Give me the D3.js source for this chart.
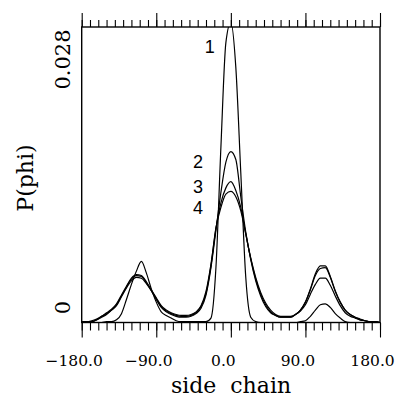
<!DOCTYPE html>
<html>
<head>
<meta charset="utf-8">
<script src="https://cdn.jsdelivr.net/npm/d3@7"></script>
<style>
  body { margin: 0; background: #fff; }
  svg { display: block; }
</style>
</head>
<body>
<div id="chart"></div>
<script>
// Side chain angle grid (degrees)
const angles = [-180, -174, -168, -162, -156, -150, -144, -138, -132, -126, -120, -114, -108, -102, -96, -90,
  -84, -78, -72, -66, -60, -54, -48, -42, -36, -30, -24, -18, -12, -6, 0, 6, 12, 18, 24, 30, 36, 42, 48,
  54, 60, 66, 72, 78, 84, 90, 96, 102, 108, 114, 120, 126, 132, 138, 144, 150, 156, 162, 168, 174, 180];

// P(phi) for each run
const curve1 = [0, 0, 0, 0, 0, 0.0001, 0.0001, 0.0003, 0.0010, 0.0026, 0.0043, 0.0058, 0.0069, 0.0056, 0.0038, 0.0023,
  0.0012, 0.0008, 0.0005, 0.0002, 0.0001, 0.0001, 0.0001, 0.0001, 0.0001, 0.0001, 0.0005, 0.0062, 0.0198, 0.0316, 0.0339,
  0.0288, 0.0169, 0.0051, 0.0006, 0.0001, 0, 0, 0, 0, 0, 0, 0, 0, 0.0001, 0.0002, 0.0007, 0.0014, 0.0020, 0.0021,
  0.0017, 0.0010, 0.0005, 0.0001, 0, 0, 0, 0, 0, 0, 0];
const curve2 = [0, 0.0001, 0.0001, 0.0003, 0.0007, 0.0010, 0.0014, 0.0019, 0.0029, 0.0039, 0.0047, 0.0051, 0.0050, 0.0044, 0.0036, 0.0026,
  0.0017, 0.0012, 0.0009, 0.0007, 0.0006, 0.0006, 0.0007, 0.0010, 0.0016, 0.0031, 0.0062, 0.0104, 0.0147, 0.0181, 0.0193,
  0.0184, 0.0142, 0.0102, 0.0071, 0.0047, 0.0030, 0.0018, 0.0011, 0.0008, 0.0006, 0.0006, 0.0006, 0.0009, 0.0013, 0.0020,
  0.0032, 0.0043, 0.0050, 0.0050, 0.0042, 0.0030, 0.0019, 0.0011, 0.0007, 0.0005, 0.0003, 0.0002, 0.0001, 0.0001, 0];
const curve3 = [0, 0.0001, 0.0001, 0.0003, 0.0006, 0.0009, 0.0014, 0.0020, 0.0030, 0.0040, 0.0049, 0.0053, 0.0052, 0.0045, 0.0036, 0.0027,
  0.0018, 0.0013, 0.0010, 0.0008, 0.0007, 0.0007, 0.0008, 0.0011, 0.0018, 0.0033, 0.0064, 0.0106, 0.0135, 0.0152, 0.0159,
  0.0149, 0.0130, 0.0100, 0.0072, 0.0049, 0.0032, 0.0020, 0.0012, 0.0008, 0.0006, 0.0006, 0.0006, 0.0009, 0.0014, 0.0023,
  0.0038, 0.0055, 0.0064, 0.0064, 0.0052, 0.0036, 0.0023, 0.0014, 0.0009, 0.0006, 0.0003, 0.0002, 0.0001, 0.0001, 0];
const curve4 = [0.0001, 0.0001, 0.0002, 0.0004, 0.0007, 0.0011, 0.0015, 0.0021, 0.0031, 0.0041, 0.0050, 0.0054, 0.0053, 0.0046, 0.0037, 0.0028,
  0.0019, 0.0014, 0.0011, 0.0009, 0.0008, 0.0008, 0.0009, 0.0012, 0.0019, 0.0035, 0.0066, 0.0107, 0.0130, 0.0145, 0.0148,
  0.0142, 0.0126, 0.0100, 0.0073, 0.0051, 0.0034, 0.0022, 0.0014, 0.0009, 0.0007, 0.0007, 0.0007, 0.0009, 0.0014, 0.0023,
  0.0037, 0.0053, 0.0061, 0.0062, 0.0051, 0.0035, 0.0023, 0.0014, 0.0009, 0.0006, 0.0004, 0.0002, 0.0001, 0.0001, 0];

const seriesNames = ['1', '2', '3', '4'];
const xMajorTicks = [-180, -90, 0, 90, 180];
const xTickLabels = ['\u2212180.0', '\u221290.0', '0.0', '90.0', '180.0'];
const yTicks = [0, 0.028];
const yTickLabels = ['0', '0.028'];

// Layout
const W = 398, H = 397;
const plot = { left: 81.7, right: 380, top: 27, bottom: 322.5 };

const svg = d3.select('#chart').append('svg')
  .attr('width', W)
  .attr('height', H);

const x = d3.scaleLinear().domain([-180, 180]).range([plot.left, plot.right]);
const y = d3.scaleLinear().domain([0, 0.028]).range([plot.bottom, plot.bottom - 248]);

svg.append('clipPath').attr('id', 'plot-clip')
  .append('rect')
  .attr('x', plot.left).attr('y', plot.top)
  .attr('width', plot.right - plot.left).attr('height', plot.bottom - plot.top);

// Curves
const line = d3.line()
  .x((d, i) => x(angles[i]))
  .y(d => y(d))
  .curve(d3.curveMonotoneX);

const curves = [curve1, curve2, curve3, curve4];
svg.append('g')
  .attr('clip-path', 'url(#plot-clip)')
  .selectAll('path')
  .data(curves)
  .join('path')
  .attr('d', line)
  .attr('fill', 'none')
  .attr('stroke', '#000')
  .attr('stroke-width', 1.2)
  .attr('stroke-linejoin', 'round');

// Frame
svg.append('rect')
  .attr('x', plot.left).attr('y', plot.top)
  .attr('width', plot.right - plot.left).attr('height', plot.bottom - plot.top)
  .attr('fill', 'none')
  .attr('stroke', '#000')
  .attr('stroke-width', 1.4);

// Ticks on top and bottom
const minorTicks = d3.range(-180, 181, 10);

function tickAxis(axis, ty) {
  const g = svg.append('g').attr('transform', `translate(0,${ty})`).call(axis);
  g.select('.domain').remove();
  g.selectAll('line').attr('stroke', '#000').attr('stroke-width', 1.1);
  return g;
}

tickAxis(d3.axisTop(x).tickValues(minorTicks).tickSize(7).tickFormat(''), plot.top);
tickAxis(d3.axisTop(x).tickValues(xMajorTicks).tickSize(14).tickFormat(''), plot.top);
tickAxis(d3.axisBottom(x).tickValues(minorTicks).tickSize(8).tickFormat(''), plot.bottom);

const bottomMajor = tickAxis(
  d3.axisBottom(x).tickValues(xMajorTicks).tickSize(15).tickFormat((d, i) => xTickLabels[i]),
  plot.bottom);
bottomMajor.selectAll('text')
  .attr('y', 43)
  .attr('dy', 0)
  .attr('dx', -8)
  .attr('fill', '#000')
  .style('font-family', '"DejaVu Serif", serif')
  .style('font-size', '15.5px');

// Y tick labels (rotated, no tick marks)
svg.append('g')
  .selectAll('text')
  .data(yTicks)
  .join('text')
  .attr('transform', d => `translate(70,${y(d) - 15}) rotate(-90)`)
  .attr('text-anchor', 'middle')
  .style('font-family', '"DejaVu Serif", serif')
  .style('font-size', '21px')
  .text((d, i) => yTickLabels[i]);

// Axis titles
svg.append('text')
  .attr('x', 231)
  .attr('y', 393)
  .attr('text-anchor', 'middle')
  .style('font-family', '"DejaVu Serif", serif')
  .style('font-size', '22px')
  .style('word-spacing', '7px')
  .text('side chain');

svg.append('text')
  .attr('transform', 'translate(33,178) rotate(-90)')
  .attr('text-anchor', 'middle')
  .style('font-family', '"DejaVu Serif", serif')
  .style('font-size', '22px')
  .text('P(phi)');

// Curve numbers
const labelPos = [
  { a: -25.5, v: 0.0304 },
  { a: -39.5, v: 0.0174 },
  { a: -39.5, v: 0.0146 },
  { a: -39.5, v: 0.0123 }
];
svg.append('g')
  .selectAll('text')
  .data(seriesNames)
  .join('text')
  .attr('x', (d, i) => x(labelPos[i].a))
  .attr('y', (d, i) => y(labelPos[i].v))
  .attr('text-anchor', 'middle')
  .style('font-family', '"Liberation Sans", Arial, sans-serif')
  .style('font-size', '18px')
  .text(d => d);
</script>
</body>
</html>
